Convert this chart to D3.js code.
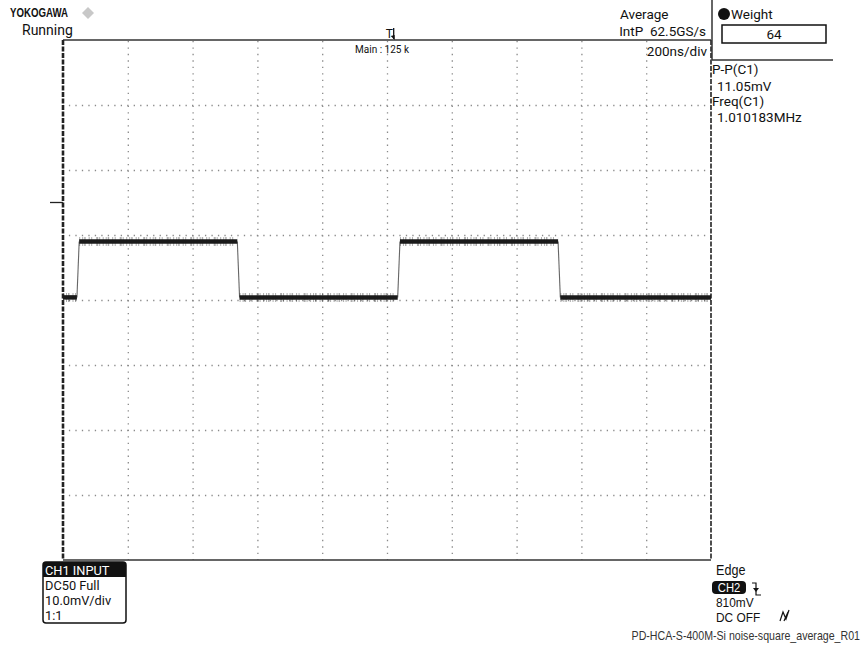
<!DOCTYPE html>
<html>
<head>
<meta charset="utf-8">
<script src="https://cdn.jsdelivr.net/npm/d3@7"></script>
<style>
  html, body { margin: 0; padding: 0; background: #fff; }
  svg { display: block; }
</style>
</head>
<body>
<svg id="chart" width="867" height="648"></svg>
<script>
// scope settings / readouts
const timeDomain = [-1000, 1000]      // ns, 200 ns/div x 10 div
const voltDomain = [-55, 25]          // mV, 10 mV/div x 8 div, 0 = ground marker
const gridTimes = [-800, -600, -400, -200, 0, 200, 400, 600, 800]
const gridVolts = [15, 5, -5, -15, -25, -35, -45]

// square wave
const edgeTimes = [-957, -462, 33, 528]
const edgeDirs = ["rise", "fall", "rise", "fall"]
const levelHigh = -6.0
const levelLow = -14.6
const edgeWidth = 7 // ns

const headerLeft = ["YOKOGAWA", "Running"]
const headerRight = ["Average", "IntP  62.5GS/s", "200ns/div"]
const measures = ["P-P(C1)", "11.05mV", "Freq(C1)", "1.010183MHz"]
const chInfo = ["CH1 INPUT", "DC50 Full", "10.0mV/div", "1:1"]
const trigInfo = ["Edge", "CH2", "810mV", "DC OFF"]
const caption = "PD-HCA-S-400M-Si noise-square_average_R01"

const svg = d3.select("#chart")
  .attr("font-family", "Roboto, 'Noto Sans', sans-serif")
  .attr("fill", "#111")
const margin = { top: 40, right: 156, bottom: 88, left: 63 }
const W = 867, H = 648
const x0 = margin.left, x1 = W - margin.right
const y0 = margin.top, y1 = H - margin.bottom

const xScale = d3.scaleLinear().domain(timeDomain).range([x0, x1])
const yScale = d3.scaleLinear().domain(voltDomain).range([y1, y0])

// dotted grid
const dots = "1.3 5.18"
svg.append("g")
  .attr("transform", `translate(0,${y1})`)
  .call(d3.axisBottom(xScale).tickValues(gridTimes).tickSize(-(y1 - y0)).tickFormat(""))
  .call(g => g.select(".domain").remove())
  .call(g => g.selectAll("line")
    .attr("stroke", "#8a8a8a").attr("stroke-width", 1.3)
    .attr("stroke-dasharray", dots).attr("stroke-dashoffset", 0.6))

svg.append("g")
  .attr("transform", `translate(${x0},0)`)
  .call(d3.axisLeft(yScale).tickValues(gridVolts).tickSize(-(x1 - x0)).tickFormat(""))
  .call(g => g.select(".domain").remove())
  .call(g => g.selectAll("line")
    .attr("stroke", "#8a8a8a").attr("stroke-width", 1.3)
    .attr("stroke-dasharray", dots).attr("stroke-dashoffset", 0.6))

// frame
svg.append("line").attr("x1", x0).attr("x2", x1).attr("y1", y0).attr("y2", y0)
  .attr("stroke", "#333").attr("stroke-width", 1.5)
svg.append("line").attr("x1", x0).attr("x2", x1).attr("y1", y1).attr("y2", y1)
  .attr("stroke", "#333").attr("stroke-width", 1.5)
svg.append("line").attr("x1", x0).attr("x2", x0).attr("y1", y0).attr("y2", y1)
  .attr("stroke", "#222").attr("stroke-width", 2.6).attr("stroke-dasharray", "5 1.5")
svg.append("line").attr("x1", x1).attr("x2", x1).attr("y1", y0).attr("y2", y1)
  .attr("stroke", "#222").attr("stroke-width", 1.6).attr("stroke-dasharray", "5 1.5")

// ground marker
svg.append("line").attr("x1", x0 - 13).attr("x2", x0).attr("y1", yScale(0)).attr("y2", yScale(0))
  .attr("stroke", "#222").attr("stroke-width", 1.3)

// waveform
const bounds = [timeDomain[0]].concat(edgeTimes, [timeDomain[1]])
let level = edgeDirs[0] === "rise" ? levelLow : levelHigh
const flats = []
const edges = []
bounds.slice(0, -1).forEach((t, i) => {
  const start = i === 0 ? t : t + edgeWidth
  flats.push({ t0: start, t1: bounds[i + 1], v: level })
  if (i < edgeTimes.length) {
    const next = edgeDirs[i] === "rise" ? levelHigh : levelLow
    edges.push({ t0: edgeTimes[i], t1: edgeTimes[i] + edgeWidth, v0: level, v1: next })
    level = next
  }
})

const trace = svg.append("g")
trace.selectAll(".edge").data(edges).join("line")
  .attr("class", "edge")
  .attr("x1", d => xScale(d.t0)).attr("x2", d => xScale(d.t1))
  .attr("y1", d => yScale(d.v0)).attr("y2", d => yScale(d.v1))
  .attr("stroke", "#666").attr("stroke-width", 1.1)

trace.selectAll(".fuzz").data(flats).join("line")
  .attr("class", "fuzz")
  .attr("x1", d => xScale(d.t0)).attr("x2", d => xScale(d.t1))
  .attr("y1", d => yScale(d.v)).attr("y2", d => yScale(d.v))
  .attr("stroke", "#333").attr("stroke-width", 9).attr("stroke-opacity", 0.4)
  .attr("stroke-dasharray", "1 2 1 1 1.5 3 1 1.5 1 4 2 1 1 2.5")

trace.selectAll(".flat").data(flats).join("line")
  .attr("class", "flat")
  .attr("x1", d => xScale(d.t0)).attr("x2", d => xScale(d.t1))
  .attr("y1", d => yScale(d.v)).attr("y2", d => yScale(d.v))
  .attr("stroke", "#1a1a1a").attr("stroke-width", 4.5)

// header left
svg.append("text").attr("x", 10).attr("y", 17)
  .attr("font-family", "Liberation Sans, Arial, sans-serif")
  .attr("font-weight", "bold").attr("font-size", 12)
  .attr("textLength", 58).attr("lengthAdjust", "spacingAndGlyphs")
  .text(headerLeft[0])
svg.append("path")
  .attr("d", "M88,7 L94,13 L88,19 L82,13 Z")
  .attr("fill", "#c8c8c8")
svg.append("text").attr("x", 22).attr("y", 35).attr("font-size", 14).text(headerLeft[1])

// trigger position marker
const trigX = xScale(edgeTimes[2]) - 6
svg.append("text").attr("x", trigX - 6).attr("y", 38)
  .attr("font-size", 12).text("T")
svg.append("line").attr("x1", trigX + 2).attr("x2", trigX + 2).attr("y1", 28).attr("y2", 39)
  .attr("stroke", "#111").attr("stroke-width", 1.3)
svg.append("path").attr("d", `M${trigX - 1},36 L${trigX + 3},40 L${trigX + 3},35 Z`).attr("fill", "#111")
svg.append("text").attr("x", 382).attr("y", 53).attr("text-anchor", "middle")
  .attr("font-size", 10).text("Main : 125 k")

// header right
svg.append("text").attr("x", 620).attr("y", 19).attr("font-size", 13.5).text(headerRight[0])
svg.append("text").attr("x", 706).attr("y", 36).attr("text-anchor", "end").attr("font-size", 13.5)
  .attr("xml:space", "preserve").text(headerRight[1])
svg.append("text").attr("x", 707).attr("y", 56).attr("text-anchor", "end").attr("font-size", 13.5).text(headerRight[2])

// side panel
svg.append("line").attr("x1", 712).attr("x2", 712).attr("y1", 0).attr("y2", 60)
  .attr("stroke", "#333").attr("stroke-width", 1.5)
svg.append("line").attr("x1", 712).attr("x2", 833).attr("y1", 60).attr("y2", 60)
  .attr("stroke", "#333").attr("stroke-width", 1.5)
svg.append("circle").attr("cx", 724).attr("cy", 14).attr("r", 6).attr("fill", "#111")
svg.append("text").attr("x", 731).attr("y", 19).attr("font-size", 13.5).text("Weight")
svg.append("rect").attr("x", 722).attr("y", 25).attr("width", 104).attr("height", 18)
  .attr("fill", "none").attr("stroke", "#111").attr("stroke-width", 1.5)
svg.append("text").attr("x", 774).attr("y", 39).attr("text-anchor", "middle").attr("font-size", 13.5).text("64")

const measY = [74, 91, 106, 122]
const measX = [712, 717, 712, 717]
svg.append("g").selectAll("text").data(measures).join("text")
  .attr("x", (d, i) => measX[i]).attr("y", (d, i) => measY[i])
  .attr("font-size", 13.5).text(d => d)

// CH1 input box
const chBox = svg.append("g")
chBox.append("rect").attr("x", 43).attr("y", 562).attr("width", 83).attr("height", 61).attr("rx", 3)
  .attr("fill", "#fff").attr("stroke", "#111").attr("stroke-width", 1.5)
chBox.append("path").attr("d", "M43,577 L43,565 Q43,562 46,562 L123,562 Q126,562 126,565 L126,577 Z")
  .attr("fill", "#111")
const chY = [575, 590, 605, 620]
chBox.selectAll("text.info").data(chInfo).join("text")
  .attr("class", "info")
  .attr("x", 45).attr("y", (d, i) => chY[i])
  .attr("font-size", 12.8)
  .attr("fill", (d, i) => i === 0 ? "#fff" : "#111")
  .text(d => d)

// trigger info (condensed face)
const narrow = "Liberation Sans, Arial, sans-serif"
const cond = (x, y, s) => `translate(${x},${y}) scale(${s},1)`
svg.append("text").attr("transform", cond(716, 575, 0.9)).attr("font-family", narrow).attr("font-size", 14).text(trigInfo[0])
svg.append("rect").attr("x", 712).attr("y", 581).attr("width", 34).attr("height", 13).attr("rx", 4).attr("fill", "#111")
svg.append("text").attr("transform", cond(729, 592, 0.9)).attr("text-anchor", "middle")
  .attr("font-family", narrow)
  .attr("font-size", 12.5).attr("fill", "#fff").text(trigInfo[1])
svg.append("path").attr("d", "M752,583 L756,583 L756,595 L761,595")
  .attr("fill", "none").attr("stroke", "#111").attr("stroke-width", 1.2)
svg.append("path").attr("d", "M753,588 L756,592 L759,588 Z").attr("fill", "#111")
svg.append("text").attr("transform", cond(716, 607, 0.88)).attr("font-family", narrow)
  .attr("font-size", 13.5).text(trigInfo[2])
svg.append("text").attr("transform", cond(716, 622, 0.88)).attr("font-family", narrow)
  .attr("font-size", 13.5).text(trigInfo[3])
svg.append("path").attr("d", "M780,621 L783,612 L786,619 L789,610 M784,621 L788,612")
  .attr("fill", "none").attr("stroke", "#111").attr("stroke-width", 1.2)

// caption
svg.append("text").attr("transform", cond(860, 640, 0.85)).attr("text-anchor", "end")
  .attr("font-family", narrow)
  .attr("font-size", 12.5)
  .attr("fill", "#333")
  .text(caption)
</script>
</body>
</html>
